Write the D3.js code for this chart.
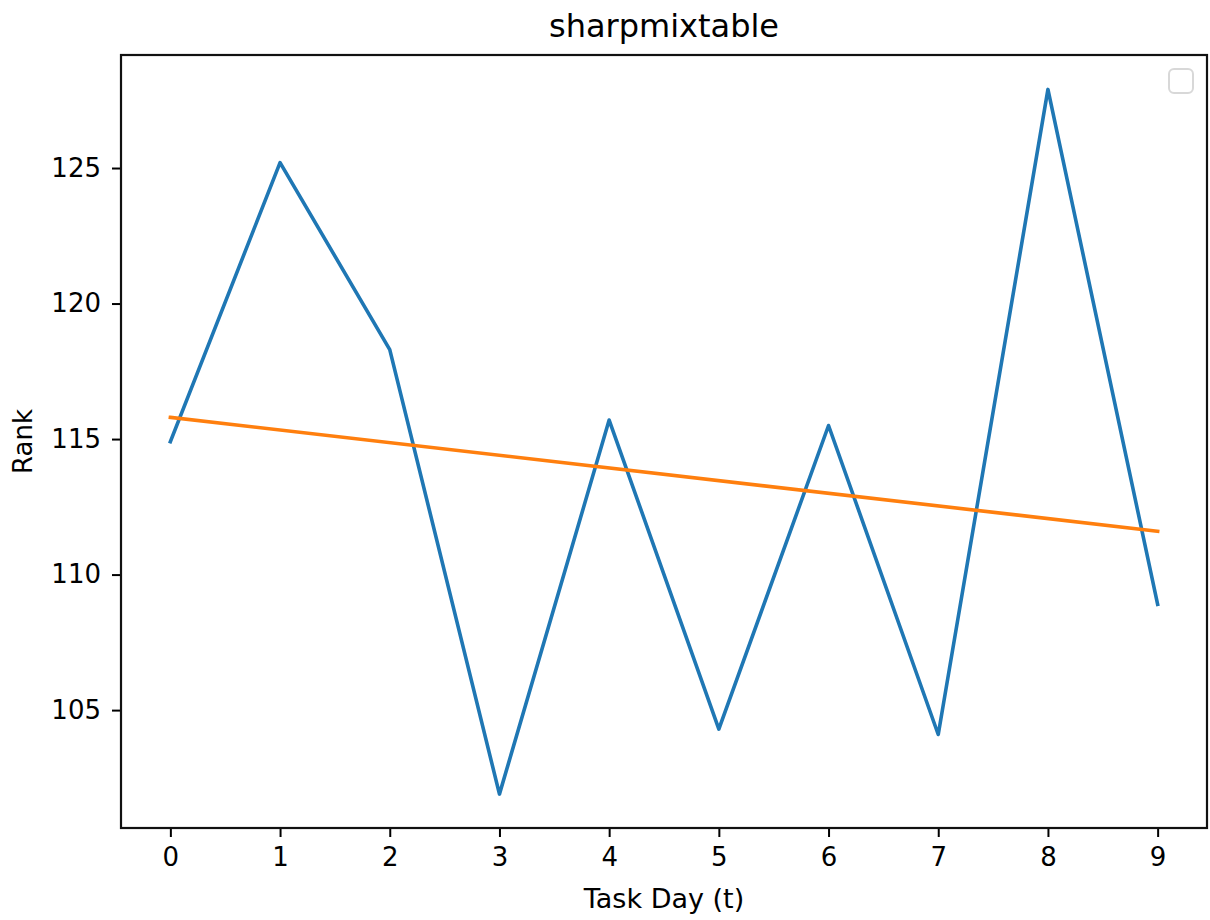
<!DOCTYPE html>
<html>
<head>
<meta charset="utf-8">
<script src="https://cdn.jsdelivr.net/npm/d3@7"></script>
<style>
  html, body { margin: 0; padding: 0; background: #fff; }
  svg { display: block; }
  text { font-family: "DejaVu Sans", sans-serif; fill: #000; }
</style>
</head>
<body>
<svg id="chart" width="1210" height="920"></svg>
<script>
// ---- data ----
const days = [0, 1, 2, 3, 4, 5, 6, 7, 8, 9];
const rank = [114.9, 125.2, 118.3, 101.9, 115.7, 104.3, 115.5, 104.1, 127.9, 108.9];
const trendDays = [0, 9];
const trendRank = [115.8, 111.6];
const yTicks = [105, 110, 115, 120, 125];
const xTicks = [0, 1, 2, 3, 4, 5, 6, 7, 8, 9];
const title = "sharpmixtable";
const xLabel = "Task Day (t)";
const yLabel = "Rank";

// ---- layout ----
const L = 121, R = 1207, T = 55, B = 828;
const svg = d3.select("#chart");

const x = d3.scaleLinear().domain([-0.45, 9.45]).range([L, R]);
const y = d3.scaleLinear().domain([100.65, 129.17]).range([B, T]);

// lines
const line = d3.line().x(d => x(d[0])).y(d => y(d[1]));
svg.append("path")
  .datum(days.map((d, i) => [d, rank[i]]))
  .attr("d", line)
  .attr("fill", "none")
  .attr("stroke", "#1f77b4")
  .attr("stroke-width", 3.6)
  .attr("stroke-linejoin", "round")
  .attr("stroke-linecap", "square");

svg.append("path")
  .datum(trendDays.map((d, i) => [d, trendRank[i]]))
  .attr("d", line)
  .attr("fill", "none")
  .attr("stroke", "#ff7f0e")
  .attr("stroke-width", 3.6)
  .attr("stroke-linecap", "square");

// axes
const xAxis = d3.axisBottom(x).tickValues(xTicks).tickSize(9).tickPadding(10).tickFormat(d3.format("d"));
const gx = svg.append("g").attr("transform", `translate(0,${B})`).call(xAxis);
const yAxis = d3.axisLeft(y).tickValues(yTicks).tickSize(9).tickPadding(11).tickFormat(d3.format("d"));
const gy = svg.append("g").attr("transform", `translate(${L},0)`).call(yAxis);
[gx, gy].forEach(g => {
  g.select(".domain").remove();
  g.selectAll(".tick line").attr("stroke", "#000").attr("stroke-width", 2);
  g.selectAll(".tick text").attr("font-size", 26).attr("font-family", "DejaVu Sans").attr("fill", "#111");
});
gx.selectAll(".tick text").attr("dy", "0.72em");

// frame
svg.append("rect")
  .attr("x", L).attr("y", T).attr("width", R - L).attr("height", B - T)
  .attr("fill", "none").attr("stroke", "#111").attr("stroke-width", 2.2);

// empty legend
svg.append("rect")
  .attr("x", 1169).attr("y", 69).attr("width", 24).attr("height", 24)
  .attr("rx", 5).attr("fill", "#fff").attr("stroke", "#d8d8d8").attr("stroke-width", 2);

// texts
svg.append("text").attr("x", (L + R) / 2).attr("y", 37)
  .attr("text-anchor", "middle").attr("font-size", 32).attr("fill", "#111").text(title);
svg.append("text").attr("x", (L + R) / 2).attr("y", 908)
  .attr("text-anchor", "middle").attr("font-size", 27).attr("fill", "#111").text(xLabel);
svg.append("text")
  .attr("transform", `translate(32,${(T + B) / 2}) rotate(-90)`)
  .attr("text-anchor", "middle").attr("font-size", 26).attr("fill", "#111").text(yLabel);
</script>
</body>
</html>
